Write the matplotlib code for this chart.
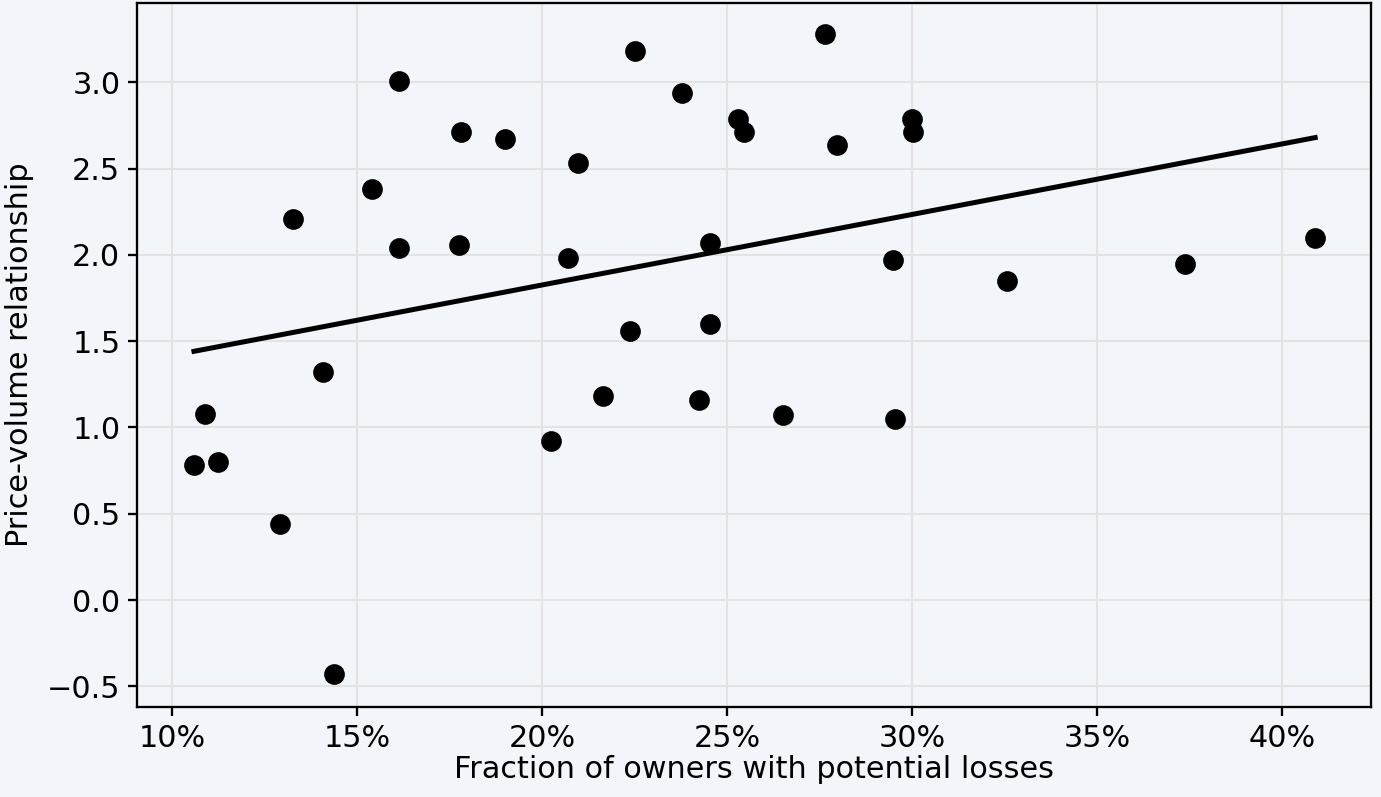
import numpy as np
import matplotlib
matplotlib.use("Agg")
import matplotlib.pyplot as plt
from matplotlib.ticker import PercentFormatter

# share of owners with potential losses, and price-volume coefficient
loss_share = [0.1059, 0.1089, 0.1124, 0.1292, 0.1327, 0.1408, 0.1438, 0.1541,
              0.1614, 0.1614, 0.1776, 0.1781, 0.1900, 0.2024, 0.2070, 0.2097,
              0.2165, 0.2238, 0.2251, 0.2378, 0.2424, 0.2454, 0.2454, 0.2530,
              0.2546, 0.2651, 0.2765, 0.2797, 0.2949, 0.2954, 0.3000, 0.3003,
              0.3257, 0.3738, 0.4089]
price_volume = [0.78, 1.08, 0.80, 0.44, 2.21, 1.32, -0.43, 2.38,
                3.01, 2.04, 2.06, 2.71, 2.67, 0.92, 1.98, 2.53,
                1.18, 1.56, 3.18, 2.94, 1.16, 2.07, 1.60, 2.79,
                2.71, 1.07, 3.28, 2.64, 1.97, 1.05, 2.79, 2.71,
                1.85, 1.95, 2.10]

bg = "#f2f5f9"
fig = plt.figure(figsize=(1381 / 150, 797 / 150), dpi=150, facecolor=bg)
ax = fig.add_axes([0.0992, 0.1129, 0.8936, 0.8833])
ax.set_facecolor(bg)

x = np.array(loss_share)
y = np.array(price_volume)
ax.scatter(x, y, s=80, color="black", zorder=3)

slope, intercept = np.polyfit(x, y, 1)
xs = np.array([x.min(), x.max()])
ax.plot(xs, intercept + slope * xs, color="black", lw=2.4, zorder=2)

ax.set_xlim(0.0905, 0.424)
ax.set_ylim(-0.62, 3.46)
ax.set_xticks(np.arange(0.10, 0.41, 0.05))
ax.set_yticks(np.arange(-0.5, 3.01, 0.5))
ax.xaxis.set_major_formatter(PercentFormatter(xmax=1, decimals=0))
ax.grid(True, color="#e3e3e3", lw=1)
ax.set_axisbelow(True)
for sp in ax.spines.values():
    sp.set_linewidth(1.1)
ax.tick_params(length=4.5, width=1.1, labelsize=14.5)
ax.set_xlabel("Fraction of owners with potential losses", fontsize=14.5, labelpad=1)
ax.set_ylabel("Price-volume relationship", fontsize=14.5, labelpad=6)

fig.savefig("out.png", dpi=150, facecolor=bg)
